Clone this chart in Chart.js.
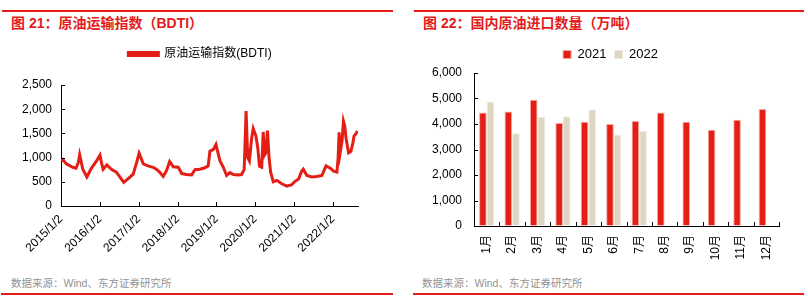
<!DOCTYPE html>
<html>
<head>
<meta charset="utf-8">
<script src="https://cdn.jsdelivr.net/npm/chart.js@4.4.0/dist/chart.umd.min.js"></script>
<style>
  body { margin: 0; width: 808px; height: 307px; background: #fff; position: relative; overflow: hidden;
         font-family: "Liberation Sans", "Noto Sans CJK SC", sans-serif; }
  .rule { position: absolute; height: 2px; background: #e31b1b; }
  .title { position: absolute; top: 12px; font-size: 14px; font-weight: bold; color: #e31b1b; white-space: nowrap; }
  .src { position: absolute; top: 275px; font-size: 10.5px; color: #939393; white-space: nowrap; }
  .box { position: absolute; top: 40px; }
</style>
</head>
<body>
<div class="rule" style="left:2px;width:391px;top:10px"></div>
<div class="rule" style="left:414px;width:390px;top:10px"></div>
<div class="title" style="left:11px">图 21：原油运输指数（BDTI）</div>
<div class="title" style="left:423px">图 22：国内原油进口数量（万吨）</div>

<div class="box" style="left:0;width:400px;height:220px"><canvas id="bdti"></canvas></div>
<div class="box" style="left:404px;width:413px;height:225px"><canvas id="imports"></canvas></div>

<div class="src" style="left:11px">数据来源：Wind、东方证券研究所</div>
<div class="src" style="left:422px">数据来源：Wind、东方证券研究所</div>
<div class="rule" style="left:1px;width:392px;top:293px"></div>
<div class="rule" style="left:413px;width:391px;top:293px"></div>

<script>
// 图21 原油运输指数（BDTI），读图估计
const bdtiDates = [
  "2015/1/2", "2015/1/19", "2015/2/20", "2015/4/22", "2015/5/22", "2015/6/13", "2015/6/25", "2015/7/13",
  "2015/7/25", "2015/9/1", "2015/10/13", "2015/11/28", "2016/1/2", "2016/1/16", "2016/2/1", "2016/3/7",
  "2016/4/19", "2016/6/4", "2016/7/7", "2016/8/13", "2016/9/22", "2016/11/10", "2016/12/10", "2017/1/5",
  "2017/2/13", "2017/3/28", "2017/5/16", "2017/6/16", "2017/7/16", "2017/8/19", "2017/9/19", "2017/10/19",
  "2017/11/22", "2018/1/7", "2018/2/10", "2018/3/25", "2018/5/13", "2018/6/13", "2018/7/28", "2018/9/16",
  "2018/10/16", "2018/11/1", "2018/12/4", "2018/12/28", "2019/2/4", "2019/3/7", "2019/4/7", "2019/5/7",
  "2019/6/10", "2019/7/25", "2019/8/25", "2019/9/19", "2019/10/7", "2019/10/22", "2019/11/7", "2019/11/28",
  "2019/12/13", "2020/1/7", "2020/1/25", "2020/2/10", "2020/3/2", "2020/3/16", "2020/3/28", "2020/4/10",
  "2020/4/25", "2020/5/10", "2020/5/25", "2020/6/19", "2020/7/22", "2020/9/7", "2020/10/25", "2020/12/10",
  "2021/1/10", "2021/2/13", "2021/3/13", "2021/3/28", "2021/5/1", "2021/6/16", "2021/8/1", "2021/9/19",
  "2021/10/28", "2021/12/7", "2022/1/7", "2022/2/7", "2022/2/19", "2022/2/28", "2022/3/10", "2022/3/28",
  "2022/4/10", "2022/4/22", "2022/5/4", "2022/5/28", "2022/6/19", "2022/7/7", "2022/7/19", "2022/8/7",
  "2022/8/19"
];
const bdtiValues = [
  930, 960, 870, 800, 780, 900, 1060, 880,
  760, 600, 780, 920, 1050, 900, 760, 850,
  760, 700, 600, 490, 560, 660, 880, 1090,
  870, 830, 800, 760, 700, 610, 730, 920,
  810, 800, 670, 650, 640, 750, 760, 790,
  830, 1130, 1170, 1270, 930, 800, 630, 690,
  650, 640, 650, 750, 1960, 1000, 930, 1400,
  1600, 1450, 1200, 820, 800, 1530, 1050, 1100,
  1560, 1000, 700, 500, 530, 460, 410, 440,
  510, 560, 720, 760, 630, 600, 610, 630,
  830, 780, 720, 700, 1000, 1520, 1100, 1350,
  1750, 1650, 1400, 1100, 1130, 1300, 1450, 1500,
  1550
];
const bdtiYTicks = [0, 500, 1000, 1500, 2000, 2500];
const bdtiXStart = 2015;
const bdtiXEnd = 2022.645;

// 图22 国内原油进口数量（万吨）
const months = ["1月", "2月", "3月", "4月", "5月", "6月", "7月", "8月", "9月", "10月", "11月", "12月"];
const imports2021 = [4450, 4490, 4950, 4040, 4090, 4000, 4120, 4450, 4090, 3770, 4170, 4590];
const imports2022 = [4880, 3640, 4270, 4300, 4580, 3590, 3730, null, null, null, null, null];
const importYTicks = [0, 1000, 2000, 3000, 4000, 5000, 6000];

const RED = "#e41e14";
const BEIGE = "#ded6c0";
const FONT = '"Liberation Sans", "Noto Sans CJK SC", sans-serif';

function toYear(s) {
  const [y, m, d] = s.split("/").map(Number);
  const t0 = Date.UTC(y, 0, 1), t1 = Date.UTC(y + 1, 0, 1);
  return y + (Date.UTC(y, m - 1, d) - t0) / (t1 - t0);
}

// tick marks that point into the plot area
const insideTicks = {
  id: "insideTicks",
  afterDraw(chart) {
    const { ctx, chartArea: a, scales } = chart;
    ctx.save();
    ctx.strokeStyle = "#000";
    ctx.lineWidth = 1;
    ctx.beginPath();
    const ys = scales.y;
    ys.ticks.forEach((t, i) => {
      const p = Math.round(ys.getPixelForTick(i)) + 0.5;
      ctx.moveTo(a.left, p);
      ctx.lineTo(a.left + 4, p);
    });
    const xs = scales.x;
    if (xs.type === "category") {
      for (let i = 0; i <= xs.ticks.length; i++) {
        const p = Math.round(xs.getPixelForValue(i - 0.5)) + 0.5;
        ctx.moveTo(p, a.bottom);
        ctx.lineTo(p, a.bottom - 4);
      }
    } else {
      xs.ticks.forEach((t, i) => {
        const p = Math.round(xs.getPixelForTick(i)) + 0.5;
        ctx.moveTo(p, a.bottom);
        ctx.lineTo(p, a.bottom - 4);
      });
    }
    ctx.stroke();
    ctx.restore();
  }
};

// extra space between legend and plot
const legendGap = gap => ({
  id: "legendGap",
  afterInit(chart) {
    const fit = chart.legend.fit;
    chart.legend.fit = function () {
      fit.call(this);
      this.height += gap;
    };
  }
});

// empty box on the right so the legend sits where it does in the original
const spacer = w => ({
  position: "right",
  display: true,
  grid: { display: false },
  border: { display: false },
  ticks: { display: false },
  afterFit: s => { s.width = w; }
});

Chart.defaults.font.family = FONT;
Chart.defaults.color = "#000";
Chart.defaults.animation = false;

new Chart(document.getElementById("bdti"), {
  type: "line",
  data: {
    datasets: [{
      label: "原油运输指数(BDTI)",
      data: bdtiDates.map((d, i) => ({ x: toYear(d), y: bdtiValues[i] })),
      borderColor: RED,
      backgroundColor: RED,
      borderWidth: 3,
      pointRadius: 0,
      tension: 0
    }]
  },
  options: {
    responsive: true,
    maintainAspectRatio: false,
    layout: { padding: 0 },
    plugins: {
      legend: {
        labels: { boxWidth: 30, boxHeight: 3, padding: 8, font: { size: 12 }, color: "#000" }
      },
      tooltip: { enabled: false }
    },
    scales: {
      x: {
        type: "linear",
        min: bdtiXStart,
        max: bdtiXEnd,
        grid: { drawOnChartArea: false, drawTicks: false },
        border: { color: "#000", width: 1 },
        ticks: {
          stepSize: 1,
          includeBounds: false,
          autoSkip: false,
          maxRotation: 45,
          minRotation: 45,
          padding: 6,
          font: { size: 12 },
          callback: v => v + "/1/2"
        },
        afterFit: s => { s.height = 54; }
      },
      y: {
        min: 0,
        max: 2500,
        afterBuildTicks: s => { s.ticks = bdtiYTicks.map(v => ({ value: v })); },
        grid: { drawOnChartArea: false, drawTicks: false },
        border: { color: "#000", width: 1 },
        ticks: { padding: 9, font: { size: 12 }, callback: v => v.toLocaleString("en-US") },
        afterFit: s => { s.width = 61; }
      },
      pad: spacer(42)
    }
  },
  plugins: [insideTicks, legendGap(15)]
});

new Chart(document.getElementById("imports"), {
  type: "bar",
  data: {
    labels: months,
    datasets: [
      { label: "2021", data: imports2021, backgroundColor: RED, borderColor: "#f2a8a4", borderWidth: 1 },
      { label: "2022", data: imports2022, backgroundColor: BEIGE, borderColor: "#f0ebe0", borderWidth: 1 }
    ]
  },
  options: {
    responsive: true,
    maintainAspectRatio: false,
    layout: { padding: 0 },
    datasets: { bar: { categoryPercentage: 0.6, barPercentage: 1.0 } },
    plugins: {
      legend: {
        labels: { boxWidth: 8, boxHeight: 8, padding: 8, font: { size: 13 }, color: "#000" }
      },
      tooltip: { enabled: false }
    },
    scales: {
      x: {
        grid: { drawOnChartArea: false, drawTicks: false },
        border: { color: "#000", width: 1 },
        ticks: { autoSkip: false, maxRotation: 90, minRotation: 90, padding: 9, font: { size: 12 } },
        afterFit: s => { s.height = 39; }
      },
      y: {
        min: 0,
        max: 6000,
        afterBuildTicks: s => { s.ticks = importYTicks.map(v => ({ value: v })); },
        grid: { drawOnChartArea: false, drawTicks: false },
        border: { color: "#000", width: 1 },
        ticks: { padding: 12, font: { size: 12 }, callback: v => v.toLocaleString("en-US") },
        afterFit: s => { s.width = 70; }
      },
      pad: spacer(38)
    }
  },
  plugins: [insideTicks, legendGap(2)]
});
</script>
</body>
</html>
